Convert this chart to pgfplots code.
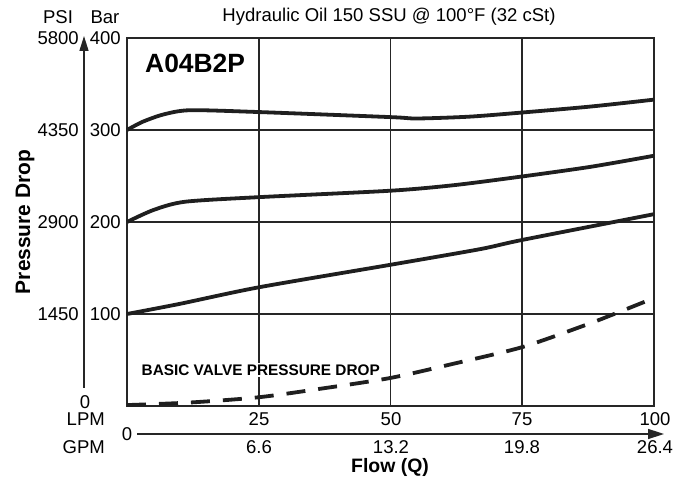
\documentclass[border=0pt]{standalone}
\usepackage{pgfplots}
\pgfplotsset{compat=1.18}
\usepackage{fontspec}
\setmainfont{Liberation Sans}
\usetikzlibrary{arrows.meta}
\begin{document}
\begin{tikzpicture}[x=1bp,y=1bp]
\useasboundingbox (0,0) rectangle (685,477);
\begin{axis}[
  at={(127bp,71bp)}, anchor=south west,
  scale only axis, width=527bp, height=368bp,
  xmin=0, xmax=100, ymin=0, ymax=400,
  xtick={25,50,75}, ytick={100,200,300},
  xticklabels={}, yticklabels={},
  major tick length=0pt,
  grid=major,
  grid style={line width=1.8bp, black!85},
  axis line style={line width=2.4bp, black!85},
  clip=false,
]
\addplot[line width=3.8bp, black!88, smooth, tension=0.45] coordinates {
(0,300) (3,309) (7,317) (12,321.5) (25,319.5) (50,314) (55,312.5) (65,314.5) (75,319) (88,325.5) (100,333)};
\addplot[line width=3.8bp, black!88, smooth, tension=0.45] coordinates {
(0,200) (5,213) (11,222) (25,227) (50,234) (62,240) (75,249.5) (88,260) (100,272)};
\addplot[line width=3.8bp, black!88, smooth, tension=0.45] coordinates {
(0,100) (10,111) (25,129) (50,153.5) (67,170.5) (75,180.5) (100,208.5)};
\addplot[line width=3.8bp, black!88, smooth, tension=0.45, dash pattern=on 19bp off 13bp] coordinates {
(0,1) (12,3.8) (25,9.5) (37,19) (50,30.5) (62,46) (75,64) (87,88) (92,99) (99,115)};
\end{axis}
\fontsize{18.6}{21}\selectfont
\tikzset{every node/.style={inner sep=0pt}}
% top labels
\node at (58,460) {PSI};
\node at (105,460) {Bar};
\node at (389,460) {Hydraulic Oil 150 SSU @ 100°F (32 cSt)};
% left axis
\draw[line width=1.5bp, black!85, -{Triangle[length=15bp,width=9bp]}] (84,89) -- (84,441);
\foreach \y/\p/\b in {439/5800/400, 347/4350/300, 255/2900/200, 163/1450/100} {
  \node[anchor=east] at (79,\y) {\p};
  \node[anchor=east] at (121,\y) {\b};
}
\node at (85,75) {0};
\node[rotate=90, font=\fontsize{21}{24}\selectfont\bfseries] at (25,255) {Pressure Drop};
% bottom axis
\node[anchor=east] at (105,58) {LPM};
\foreach \x/\l in {259/25, 391/50, 522/75, 655/100} {\node at (\x,58) {\l};}
\draw[line width=1.5bp, black!85, -{Triangle[length=16bp,width=10bp]}] (137,43) -- (664,43);
\node at (127,43) {0};
\node[anchor=east] at (105,29.5) {GPM};
\foreach \x/\l in {259/6.6, 391/13.2, 522/19.8, 655/26.4} {\node at (\x,29.5) {\l};}
\node[font=\fontsize{19.5}{22}\selectfont\bfseries] at (390,9.5) {Flow (Q)};
% in-plot labels
\node[anchor=west, font=\fontsize{26.5}{30}\selectfont\bfseries] at (145,414) {A04B2P};
\node[anchor=west, fill=white, inner sep=1.5bp, font=\fontsize{15.4}{17}\selectfont\bfseries] at (140,107) {BASIC VALVE PRESSURE DROP};
\end{tikzpicture}
\end{document}
